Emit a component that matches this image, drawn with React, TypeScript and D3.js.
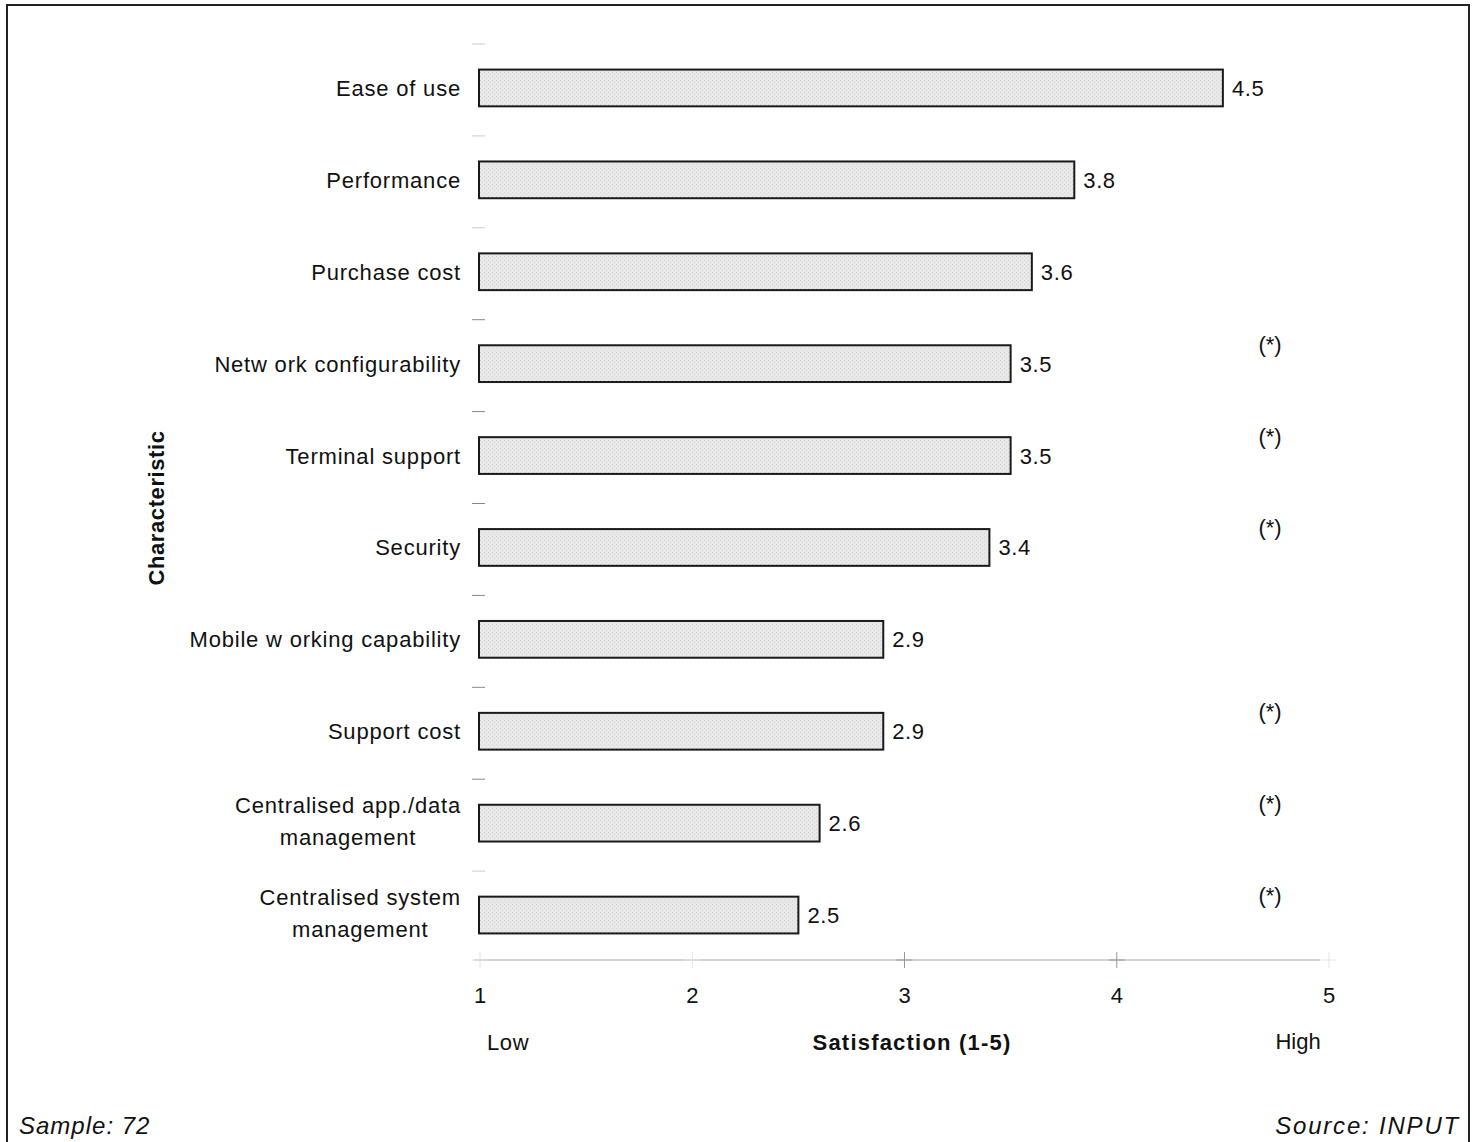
import React, { useEffect, useRef } from "react";
import * as d3 from "d3";

// Satisfaction ratings per characteristic (1 = low, 5 = high)
const categories: string[] = [
  "Ease of use",
  "Performance",
  "Purchase cost",
  "Netw ork configurability",
  "Terminal support",
  "Security",
  "Mobile w orking capability",
  "Support cost",
  "Centralised app./data\nmanagement",
  "Centralised system\nmanagement",
];
const scores: number[] = [4.5, 3.8, 3.6, 3.5, 3.5, 3.4, 2.9, 2.9, 2.6, 2.5];
// Characteristics marked with (*)
const flagged: boolean[] = [false, false, false, true, true, true, false, true, true, true];
const xTicks: number[] = [1, 2, 3, 4, 5];

const W = 1477;
const H = 1142;
const FONT = "'Liberation Sans', Arial, Helvetica, sans-serif";

export default function App() {
  const ref = useRef<SVGSVGElement | null>(null);

  useEffect(() => {
    const svg = d3.select(ref.current);
    svg.selectAll("*").remove();

    const x = d3.scaleLinear().domain([1, 5]).range([480, 1329]);
    const y = d3
      .scaleBand<string>()
      .domain(categories)
      .range([42, 961])
      .paddingInner(0.6)
      .paddingOuter(0.3);

    // stipple pattern for the bars
    const defs = svg.append("defs");
    const pat = defs
      .append("pattern")
      .attr("id", "stipple")
      .attr("width", 4)
      .attr("height", 4)
      .attr("patternUnits", "userSpaceOnUse");
    pat.append("rect").attr("width", 4).attr("height", 4).attr("fill", "#e8e8e8");
    pat.append("rect").attr("x", 0).attr("y", 0).attr("width", 1).attr("height", 1).attr("fill", "#d4d4d4");
    pat.append("rect").attr("x", 2).attr("y", 2).attr("width", 1).attr("height", 1).attr("fill", "#d8d8d8");

    // outer frame
    svg
      .append("rect")
      .attr("x", 7)
      .attr("y", 5)
      .attr("width", 1462)
      .attr("height", 1150)
      .attr("fill", "none")
      .attr("stroke", "#222")
      .attr("stroke-width", 2);

    const g = svg.append("g").attr("font-family", FONT).attr("fill", "#111");

    // faint category tick marks
    const step = y.step();
    const y0 = y.range()[0];
    g.append("g")
      .selectAll("line")
      .data(d3.range(categories.length))
      .join("line")
      .attr("x1", 472)
      .attr("x2", 485)
      .attr("y1", (i) => y0 + i * step + 2)
      .attr("y2", (i) => y0 + i * step + 2)
      .attr("stroke", (i) => (i >= 3 && i <= 8 ? "#888" : "#ccc"))
      .attr("stroke-width", 1);

    // bars
    g.append("g")
      .selectAll("rect")
      .data(categories)
      .join("rect")
      .attr("x", x(1) - 1)
      .attr("y", (d) => y(d)!)
      .attr("width", (d, i) => x(scores[i]) - x(1) + 1)
      .attr("height", y.bandwidth())
      .attr("fill", "url(#stipple)")
      .attr("stroke", "#1a1a1a")
      .attr("stroke-width", 2);

    // value labels
    g.append("g")
      .selectAll("text")
      .data(categories)
      .join("text")
      .attr("x", (d, i) => x(scores[i]) + 9)
      .attr("y", (d) => y(d)! + y.bandwidth() / 2 + 8)
      .attr("font-size", 22)
      .attr("letter-spacing", 0.6)
      .text((d, i) => d3.format(".1f")(scores[i]));

    // category labels (multi-line labels are centred on their widest line)
    const labelRight = 461;
    const labels = g.append("g");
    categories.forEach((c) => {
      const lines = c.split("\n");
      const cy = y(c)! + y.bandwidth() / 2;
      const t = labels
        .append("text")
        .attr("font-size", 22)
        .attr("letter-spacing", 0.8);
      if (lines.length === 1) {
        t.attr("x", labelRight).attr("y", cy + 8).attr("text-anchor", "end").text(lines[0]);
      } else {
        const spans = lines.map((ln, k) =>
          t.append("tspan").attr("x", 0).attr("y", cy - 10 + k * 32).text(ln)
        );
        const widths = spans.map((s) => (s.node() as SVGTextContentElement).getComputedTextLength());
        const maxW = d3.max(widths) || 0;
        const cx = labelRight - maxW / 2;
        t.attr("text-anchor", "middle");
        spans.forEach((s) => s.attr("x", cx));
      }
    });

    // (*) markers
    g.append("g")
      .selectAll("text")
      .data(categories.filter((c, i) => flagged[i]))
      .join("text")
      .attr("x", 1270)
      .attr("y", (d) => y(d)! + y.bandwidth() / 2 - 12)
      .attr("text-anchor", "middle")
      .attr("font-size", 22)
      .text("(*)");

    // x axis: faint baseline with cross ticks
    const axisY = 960;
    g.append("line")
      .attr("x1", 474)
      .attr("x2", 1320)
      .attr("y1", axisY)
      .attr("y2", axisY)
      .attr("stroke", "#c4c4c4")
      .attr("stroke-width", 1.5);
    const tk = g.append("g").selectAll("g").data(xTicks).join("g");
    tk.append("line")
      .attr("x1", (d) => x(d))
      .attr("x2", (d) => x(d))
      .attr("y1", axisY - 8)
      .attr("y2", axisY + 8)
      .attr("stroke", (d) => (d === 3 || d === 4 ? "#999" : "#e4e4e4"))
      .attr("stroke-width", 1);
    tk.append("line")
      .attr("x1", (d) => x(d) - 8)
      .attr("x2", (d) => x(d) + 8)
      .attr("y1", axisY)
      .attr("y2", axisY)
      .attr("stroke", (d) => (d === 3 || d === 4 ? "#999" : "#e4e4e4"))
      .attr("stroke-width", 1);
    tk.append("text")
      .attr("x", (d) => x(d))
      .attr("y", 1003)
      .attr("text-anchor", "middle")
      .attr("font-size", 22)
      .text((d) => String(d));

    // axis titles
    g.append("text")
      .attr("x", 487)
      .attr("y", 1050)
      .attr("font-size", 22)
      .attr("letter-spacing", 0.6)
      .text("Low");
    g.append("text")
      .attr("x", 912)
      .attr("y", 1050)
      .attr("text-anchor", "middle")
      .attr("font-size", 22)
      .attr("font-weight", "bold")
      .attr("letter-spacing", 1.2)
      .text("Satisfaction (1-5)");
    g.append("text")
      .attr("x", 1298)
      .attr("y", 1049)
      .attr("text-anchor", "middle")
      .attr("font-size", 22)
      .text("High");
    g.append("text")
      .attr("transform", "translate(164,508) rotate(-90)")
      .attr("text-anchor", "middle")
      .attr("font-size", 22)
      .attr("font-weight", "bold")
      .attr("letter-spacing", 0.6)
      .text("Characteristic");

    // footnotes
    g.append("text")
      .attr("x", 19)
      .attr("y", 1134)
      .attr("font-size", 24)
      .attr("font-style", "italic")
      .attr("letter-spacing", 1)
      .text("Sample: 72");
    g.append("text")
      .attr("x", 1460)
      .attr("y", 1134)
      .attr("text-anchor", "end")
      .attr("font-size", 24)
      .attr("font-style", "italic")
      .attr("letter-spacing", 1.8)
      .text("Source:  INPUT");
  }, []);

  return (
    <svg
      ref={ref}
      width={W}
      height={H}
      style={{ position: "absolute", left: 0, top: 0, background: "#fff" }}
    />
  );
}
